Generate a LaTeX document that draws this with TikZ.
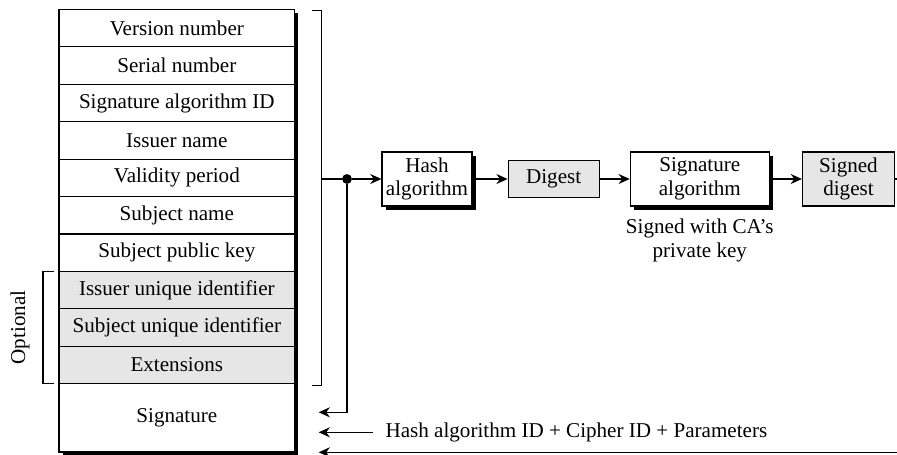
\documentclass[tikz,border=0pt]{standalone}
\usepackage{fontspec}
\setmainfont{Liberation Serif}
\usetikzlibrary{arrows.meta,positioning,calc,shadows,backgrounds}
\definecolor{fieldgray}{HTML}{E6E6E6}

\begin{document}
\begin{tikzpicture}[x=0.025cm,y=-0.025cm,
 font=\fontsize{15}{17}\selectfont,
 node distance=0pt,
 field/.style={draw,line width=0.8pt,minimum width=5.89cm,minimum height=0.935cm,inner sep=0pt,outer sep=0pt,fill=white},
 optfield/.style={field,fill=fieldgray},
 block/.style={draw,line width=0.8pt,align=center,minimum height=1.35cm,inner sep=1pt,fill=white,drop shadow={shadow xshift=2.8pt,shadow yshift=-2.8pt,fill=black,opacity=1}},
 data/.style={draw,line width=0.8pt,align=center,fill=fieldgray,inner sep=1pt},
 junction/.style={circle,fill,inner sep=0pt,minimum size=7pt},
 arrow/.style={-{Stealth[length=2.8mm,width=2.5mm]},line width=0.9pt},
 link/.style={line width=0.9pt}
]
\useasboundingbox (0,0) rectangle (897,455);
% certificate fields
\node[field,anchor=north west] (ver) at (59,9.5) {Version number};
\node[field,below=of ver] (serial) {Serial number};
\node[field,below=of serial] (sigalgid) {Signature algorithm ID};
\node[field,below=of sigalgid] (issuer) {Issuer name};
\node[field,below=of issuer] (valid) {Validity period};
\node[field,below=of valid] (subject) {Subject name};
\node[field,below=of subject] (pubkey) {Subject public key};
\node[optfield,below=of pubkey] (issuerid) {Issuer unique identifier};
\node[optfield,below=of issuerid] (subjectid) {Subject unique identifier};
\node[optfield,below=of subjectid] (ext) {Extensions};
\node[field,below=of ext,minimum height=1.71cm] (sig) {Signature};
\begin{scope}[on background layer]
\fill ([shift={(2.5pt,-2.5pt)}]ver.north west) rectangle ([shift={(2.5pt,-2.5pt)}]sig.south east);
\end{scope}
% brackets
\draw[line width=0.8pt] ($(issuerid.north west)+(-5,0)$) -- ++(-11,0) |- ($(ext.south west)+(-5,0)$);
\node[rotate=90] (opt) at ($(issuerid.north west)!0.5!(ext.south west)+(-39,0)$) {Optional};
\draw[line width=0.8pt] ($(ver.north east)+(17,1)$) -- ++(10,0) coordinate (brtop) |- ($(ext.south east)+(17,2)$);
% signing chain
\node[block,minimum width=2.25cm] (hash) at (427,179) {Hash\\algorithm};
\node[data,minimum width=2.275cm,minimum height=0.925cm,right=0.875cm of hash] (digest) {Digest};
\node[block,minimum width=3.475cm,right=0.75cm of digest] (signalg) {Signature\\algorithm};
\node[data,minimum width=2.3cm,minimum height=1.35cm,right=0.8cm of signalg] (signed) {Signed\\digest};
\node[below=5pt of signalg,align=center] (cakey) {Signed with CA's\\private key};
\coordinate (brk) at (brtop |- hash.west);
\node[junction] (split) at (347,179) {};
\coordinate (in1) at ($(sig.east)+(24,-5.5)$);
\coordinate (in2) at ($(sig.east)+(24,14.5)$);
\coordinate (in3) at ($(sig.east)+(24,34.5)$);
\node[anchor=west,inner xsep=9pt] (params) at ($(in2)+(54,0)$) {Hash algorithm ID + Cipher ID + Parameters};
\draw[link] (brk) -- (split);
\draw[arrow] (split) -- (hash); \draw[arrow] (hash) -- (digest); \draw[arrow] (digest) -- (signalg); \draw[arrow] (signalg) -- (signed);
\draw[arrow] (split) |- (in1);
\draw[arrow] (params) -- (in2);
\draw[arrow] (signed.east) -- ++(8,0) |- (in3);
\end{tikzpicture}
\end{document}
